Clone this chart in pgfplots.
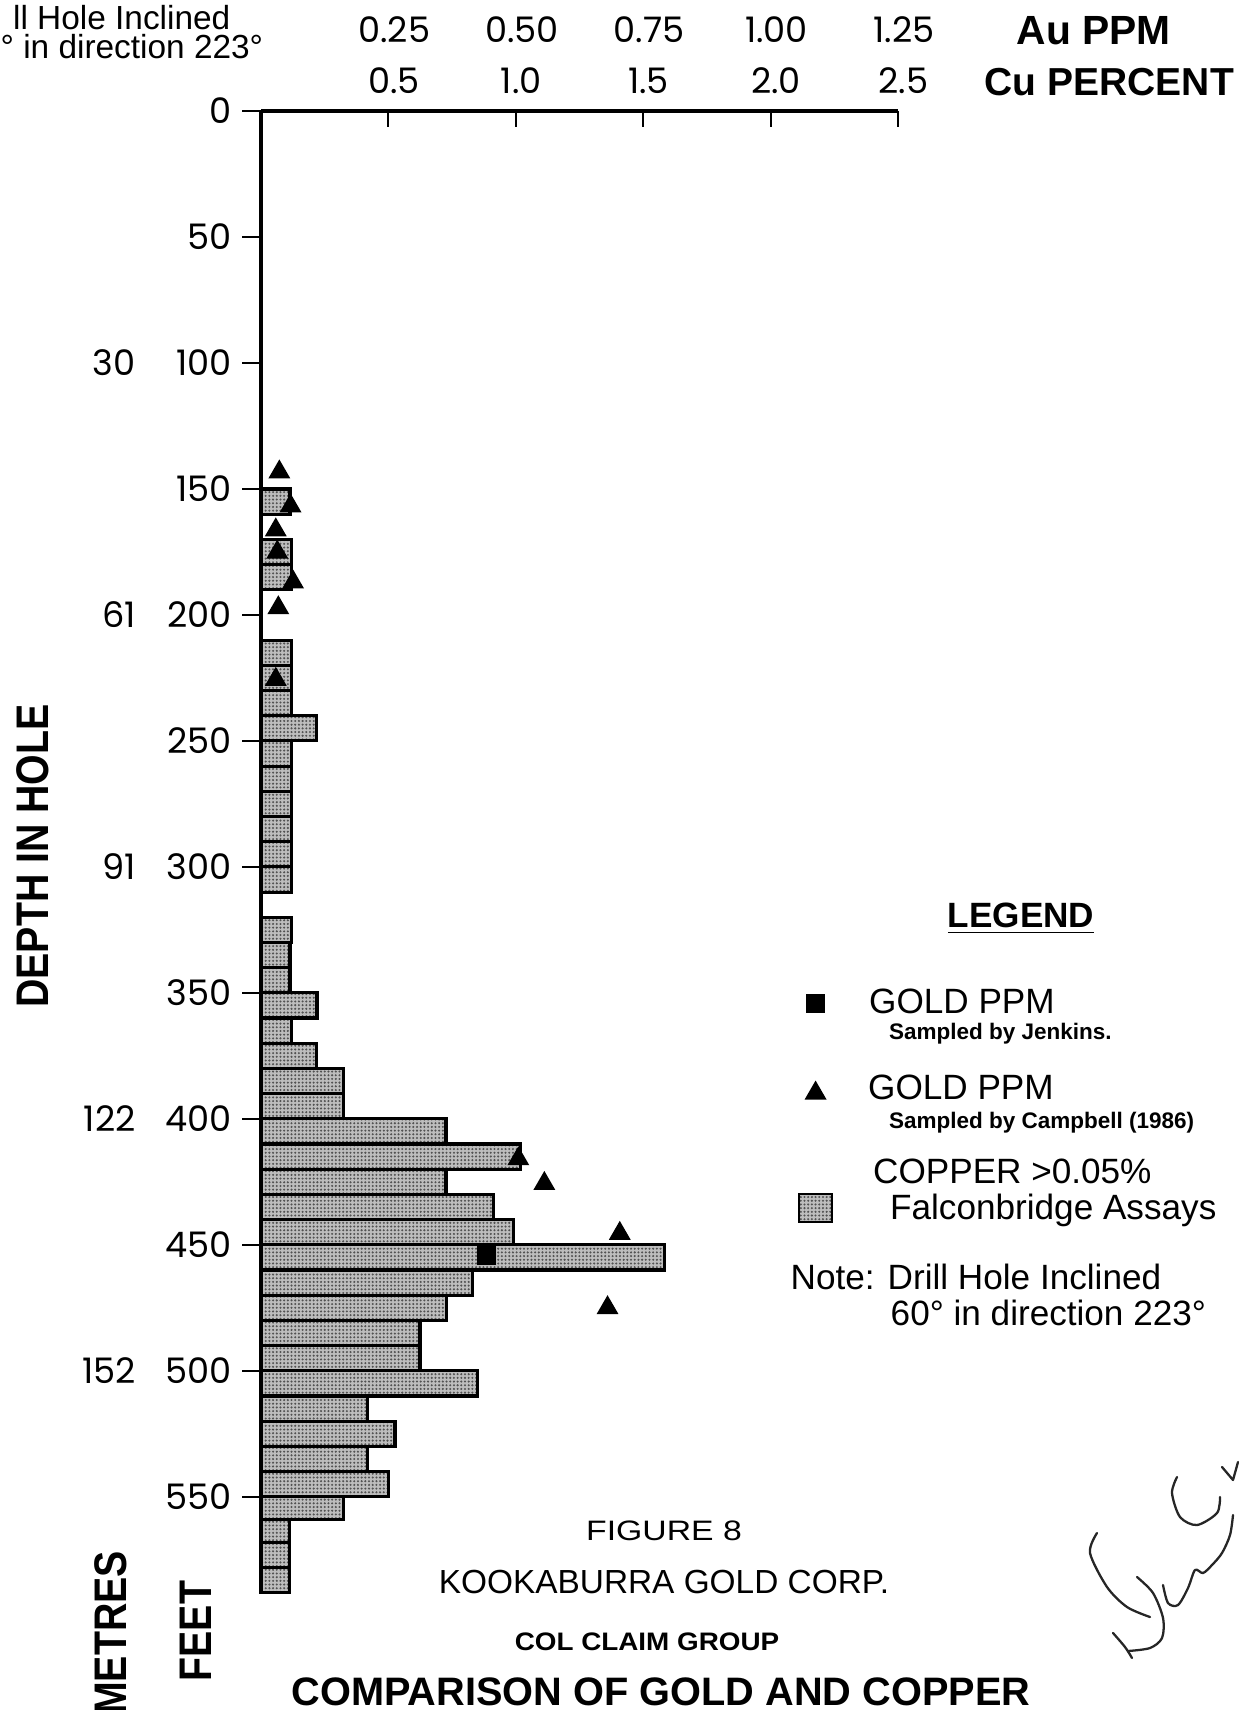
\documentclass[border=0pt]{standalone}
\usepackage{fontspec}
\setmainfont{Liberation Sans}
\newfontfamily\numfont{Poppins}
\newfontfamily\condfont[FakeStretch=0.86]{Liberation Sans}
\newfontfamily\widefont[FakeStretch=1.2]{Liberation Sans}
\newfontfamily\colfont[FakeStretch=1.1]{Liberation Sans}
\usepackage{pgfplots}
\pgfplotsset{compat=1.18}
\usepackage{pgfplotstable}
\usetikzlibrary{patterns}

\pgfdeclarepatternformonly{finedots}{\pgfpoint{-0.5pt}{-0.5pt}}{\pgfpoint{0.5pt}{0.5pt}}{\pgfpoint{1.05pt}{1.05pt}}{\pgfpathcircle{\pgfpointorigin}{0.33pt}\pgfusepath{fill}}

\pgfplotstableread{
depth cu
150 0.114
160 0
170 0.12
180 0.12
190 0
210 0.12
220 0.12
230 0.12
240 0.219
250 0.12
260 0.12
270 0.12
280 0.12
290 0.12
300 0.12
310 0
320 0.12
330 0.114
340 0.114
350 0.22
360 0.12
370 0.219
380 0.323
390 0.323
400 0.726
410 1.019
420 0.726
430 0.914
440 0.99
450 1.582
460 0.831
470 0.729
480 0.624
490 0.624
500 0.849
510 0.419
520 0.526
530 0.419
540 0.502
550 0.323
559 0.111
568 0.111
578 0.111
588 0
}\cudata

\pgfplotstableread{
depth au
143.3 0.036
156.8 0.058
166.3 0.029
175.1 0.032
187.0 0.063
197.2 0.034
225.6 0.029
415.9 0.505
425.7 0.556
445.5 0.704
475.0 0.680
}\campbell

\pgfplotstableread{
depth au
454.1 0.443
}\jenkins

\tikzset{cuFill/.style={fill=black!26, postaction={pattern=finedots, pattern color=black!68}, draw=black, line width=0.9pt}}
\pgfplotsset{
  jenkinsleg/.style={legend image code/.code={\path[draw=none,fill=none] (-1.7mm,-5.4mm) rectangle (1.7mm,3.0mm); \draw[only marks, mark=square*, mark size=2.55pt, black] plot coordinates {(0mm,1.0mm)};}},
  campbellleg/.style={legend image code/.code={\path[draw=none,fill=none] (-1.7mm,-5.3mm) rectangle (1.7mm,3.0mm); \draw[only marks, mark=triangle*, mark size=3.2pt, black] plot coordinates {(0mm,0.6mm)};}},
  copperleg/.style={legend image code/.code={\path[draw=none,fill=none] (-1.7mm,-1.5mm) rectangle (1.7mm,6.5mm); \draw[cuFill, line width=0.6pt] (-1.65mm,-0.2mm) rectangle (1.65mm,2.6mm);}},
}

\begin{document}
\begin{tikzpicture}
\useasboundingbox (0,0) rectangle (123.8mm,-171mm);

% ---------- copper axis ----------
\begin{axis}[
  at={(26.1mm,-11.1mm)}, anchor=north west,
  scale only axis, width=63.7mm, height=148.15mm,
  xmin=0, xmax=2.5, ymin=0, ymax=588, y dir=reverse,
  axis x line*=top, axis y line*=left,
  axis line style={line width=0.9pt,-},
  /pgf/number format/assume math mode=true,
  xtick={0.5,1,1.5,2,2.5}, xticklabels={0.5,1.0,1.5,2.0,2.5},
  xtick align=inside,
  xtick style={line width=0.6pt, black, /pgfplots/major tick length=1.6mm},
  ytick={0,50,...,550},
  ytick align=outside,
  ytick style={line width=0.6pt, black, /pgfplots/major tick length=1.9mm},
  extra y ticks={100,200,300,400,500},
  extra y tick labels={30,61,91,122,152},
  extra y tick style={major tick length=0pt, tick style={draw=none}, yticklabel style={xshift=-11.1mm}},
  tick label style={font=\numfont\fontsize{10}{12}\selectfont},
  xticklabel style={yshift=0.45mm, xshift=0.55mm},
  yticklabel style={xshift=-0.2mm},
  clip=false,
]
\addplot[xbar interval, cuFill] table[x=cu, y=depth] {\cudata};
\end{axis}

% ---------- gold axis ----------
\begin{axis}[
  at={(26.1mm,-11.1mm)}, anchor=north west,
  scale only axis, width=63.7mm, height=148.15mm,
  xmin=0, xmax=1.25, ymin=0, ymax=588, y dir=reverse,
  axis x line*=top, axis y line=none,
  x axis line style={draw=none},
  xtick={0.25,0.5,0.75,1,1.25}, xticklabels={0.25,0.50,0.75,1.00,1.25},
  xtick style={draw=none},
  xticklabel style={font=\numfont\fontsize{10}{12}\selectfont, yshift=5.6mm, xshift=0.6mm},
  ytick=\empty,
  clip=false,
  legend style={at={(axis cs:1.0538,345.7)}, anchor=north west, draw=none, fill=none,
    inner sep=0pt, outer sep=0pt, row sep=0pt, column sep=2.8mm,
    cells={anchor=base west, inner sep=0pt, font=\fontsize{10}{12}\selectfont}},
]
\addplot[only marks, mark=square*, mark size=2.55pt, black, jenkinsleg]
  table[x=au, y=depth] {\jenkins};
\addlegendentry{\vtop{\baselineskip=7.4pt\lineskiplimit=-20pt\hbox{\hspace*{0.1mm}GOLD PPM}\hbox{\hspace*{2.1mm}\fontsize{6.4}{7}\selectfont\bfseries Sampled by Jenkins.}}}
\addplot[only marks, mark=triangle*, mark size=3.2pt, black, campbellleg]
  table[x=au, y=depth] {\campbell};
\addlegendentry{\vtop{\baselineskip=8.2pt\lineskiplimit=-20pt\hbox{GOLD PPM}\hbox{\hspace*{2.1mm}\fontsize{6.4}{7}\selectfont\bfseries Sampled by Campbell (1986)}}}
\addlegendimage{copperleg}
\addlegendentry{\vbox{\baselineskip=10.2pt\lineskiplimit=-20pt\hbox{\hspace*{0.5mm}COPPER >0.05\%}\hbox{\hspace*{2.2mm}Falconbridge Assays}}}
\end{axis}

% ---------- texts ----------
\node[anchor=east, inner sep=0pt, font=\fontsize{9.5}{11}\selectfont] at (23.1mm,-1.8mm) {ll Hole Inclined};
\node[anchor=west, inner sep=0pt, font=\fontsize{9.5}{11}\selectfont] at (0mm,-4.7mm) {° in direction 223°};

\node[anchor=west, inner sep=0pt, font=\bfseries\fontsize{11.6}{13}\selectfont] at (101.6mm,-3.05mm) {Au PPM};
\node[anchor=west, inner sep=0pt, font=\bfseries\fontsize{11.1}{13}\selectfont] at (98.4mm,-8.2mm) {Cu PERCENT};

\node[anchor=base, inner sep=0pt, font=\bfseries\fontsize{10}{12}\selectfont] at (102.1mm,-92.7mm) {\underline{LEGEND}};
\node[anchor=base west, inner sep=0pt, font=\fontsize{10}{12}\selectfont] at (79.0mm,-128.9mm) {Note: Drill Hole Inclined};
\node[anchor=base west, inner sep=0pt, font=\fontsize{10}{12}\selectfont] at (89.0mm,-132.5mm) {60° in direction 223°};

\node[anchor=base, inner sep=0pt, font=\widefont\fontsize{8}{10}\selectfont] at (66.4mm,-154.0mm) {FIGURE 8};
\node[anchor=base, inner sep=0pt, font=\fontsize{9.5}{11}\selectfont] at (66.4mm,-159.3mm) {KOOKABURRA GOLD CORP.};
\node[anchor=base, inner sep=0pt, font=\colfont\bfseries\fontsize{7.2}{9}\selectfont] at (64.7mm,-165.0mm) {COL CLAIM GROUP};
\node[anchor=base, inner sep=0pt, font=\bfseries\fontsize{11.3}{13}\selectfont] at (66.1mm,-170.5mm) {COMPARISON OF GOLD AND COPPER};

\node[rotate=90, inner sep=0pt, font=\condfont\bfseries\fontsize{13}{15}\selectfont] at (3.3mm,-85.6mm) {DEPTH IN HOLE};
\node[rotate=90, inner sep=0pt, font=\condfont\bfseries\fontsize{13}{15}\selectfont] at (11.1mm,-163.3mm) {METRES};
\node[rotate=90, inner sep=0pt, font=\condfont\bfseries\fontsize{13}{15}\selectfont] at (19.6mm,-163.1mm) {FEET};

% ---------- signature ----------
\begin{scope}[line width=0.65pt, black!85, line cap=round, line join=round]
\draw plot[smooth] coordinates {(109.7mm,-153.3mm) (109.0mm,-155.3mm) (110.7mm,-158.7mm) (112.7mm,-160.7mm) (115.0mm,-161.7mm)};
\draw plot[smooth] coordinates {(111.3mm,-163.3mm) (112.5mm,-164.7mm) (113.2mm,-165.8mm)};
\draw plot[smooth] coordinates {(112.8mm,-165.1mm) (115.0mm,-164.8mm) (116.2mm,-163.8mm) (116.3mm,-161.8mm) (115.3mm,-159.3mm) (113.7mm,-157.7mm)};
\draw plot[smooth] coordinates {(116.3mm,-158.5mm) (116.8mm,-160.3mm) (117.8mm,-160.5mm) (118.8mm,-158.8mm) (119.5mm,-157.0mm) (120.3mm,-157.3mm) (121.2mm,-156.5mm) (122.2mm,-155.3mm) (123.0mm,-153.5mm) (123.3mm,-151.5mm)};
\draw plot[smooth] coordinates {(117.7mm,-147.7mm) (117.2mm,-149.3mm) (118.0mm,-151.7mm) (119.7mm,-152.5mm) (121.7mm,-151.3mm) (122.0mm,-149.7mm)};
\draw (122.2mm,-146.7mm) -- (123.3mm,-148.0mm) -- (123.8mm,-146.2mm);
\end{scope}
\end{tikzpicture}
\end{document}
